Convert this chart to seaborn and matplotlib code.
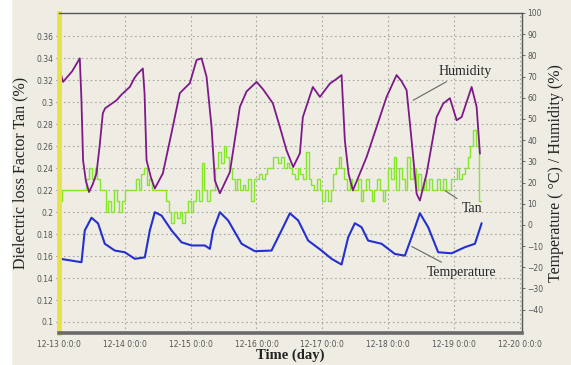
import numpy as np
import pandas as pd
import matplotlib
matplotlib.use("Agg")
import matplotlib.pyplot as plt
import seaborn as sns
from matplotlib.ticker import MultipleLocator, FixedLocator

# --- data (time in days from 12-13 0:0:0) ---
day_labels = ['12-13 0:0:0', '12-14 0:0:0', '12-15 0:0:0', '12-16 0:0:0',
              '12-17 0:0:0', '12-18 0:0:0', '12-19 0:0:0', '12-20 0:0:0']

hum_day = [0.0, 0.062, 0.20, 0.316, 0.34, 0.366, 0.407, 0.457, 0.51, 0.570, 0.62, 0.666, 0.70,
           0.874, 0.95, 1.076, 1.15, 1.20, 1.274, 1.30, 1.330, 1.40, 1.456, 1.578, 1.70, 1.836,
           1.988, 2.090, 2.166, 2.242, 2.318, 2.368, 2.444, 2.596, 2.748, 2.85, 3.002, 3.10,
           3.249, 3.356, 3.457, 3.558, 3.660, 3.705, 3.857, 3.964, 4.116, 4.20, 4.293, 4.343,
           4.40, 4.465, 4.673, 4.825, 4.977, 5.129, 5.20, 5.281, 5.357, 5.433, 5.483, 5.585,
           5.737, 5.838, 5.939, 6.041, 6.117, 6.269, 6.345, 6.395]
humidity = [74.0, 67.5, 72.5, 78.6, 60.0, 30.5, 21.0, 15.5, 19.0, 24.3, 38.0, 52.7, 55.0,
            58.8, 61.5, 65.1, 69.5, 71.5, 73.8, 62.0, 30.5, 22.0, 17.2, 24.3, 42.0, 62.2,
            66.9, 77.8, 78.6, 69.9, 46.2, 21.0, 14.9, 24.9, 55.7, 63.0, 67.5, 64.0,
            57.4, 46.2, 35.2, 27.3, 33.8, 50.9, 65.1, 60.4, 66.7, 68.5, 70.7, 39.9,
            24.0, 16.3, 32.0, 46.2, 60.4, 70.7, 68.0, 63.6, 39.9, 14.7, 11.5, 24.2,
            50.9, 57.3, 59.8, 49.4, 50.9, 65.1, 55.7, 33.6]

temp_day = [0.0, 0.342, 0.392, 0.494, 0.594, 0.696, 0.848, 1.0, 1.152, 1.304, 1.380, 1.456,
            1.558, 1.710, 1.862, 2.014, 2.216, 2.292, 2.342, 2.444, 2.570, 2.774, 2.976,
            3.229, 3.381, 3.508, 3.634, 3.786, 3.989, 4.141, 4.293, 4.394, 4.495, 4.597,
            4.697, 4.901, 5.103, 5.255, 5.357, 5.483, 5.609, 5.761, 5.965, 6.167, 6.319, 6.421]
temperature = [-15.9, -17.6, -2.6, 3.4, 0.7, -8.9, -12.1, -12.9, -16.0, -15.3, -2.6, 6.0,
               4.4, -2.6, -8.2, -9.7, -9.7, -11.3, -2.6, 6.0, 2.1, -8.9, -12.4,
               -12.1, -2.6, 5.5, 2.1, -7.4, -12.1, -16.0, -18.7, -5.8, 0.8, -1.1,
               -7.4, -8.9, -13.7, -14.5, -5.8, 5.5, -1.1, -12.9, -13.4, -10.5, -8.9, 0.8]

# hourly readings of the loss factor
tan_delta = [0.21, 0.22, 0.22, 0.22, 0.22, 0.22, 0.22, 0.22, 0.22, 0.22,
             0.23, 0.24, 0.23, 0.24, 0.23, 0.22, 0.22, 0.20, 0.21, 0.20,
             0.22, 0.21, 0.20, 0.21, 0.22, 0.22, 0.22, 0.22, 0.23, 0.22,
             0.235, 0.24, 0.225, 0.23, 0.22, 0.22, 0.22, 0.22, 0.22, 0.21,
             0.20, 0.19, 0.20, 0.195, 0.20, 0.19, 0.20, 0.21, 0.20, 0.21,
             0.22, 0.21, 0.245, 0.22, 0.21, 0.22, 0.22, 0.24, 0.255, 0.245,
             0.26, 0.25, 0.24, 0.23, 0.22, 0.23, 0.22, 0.225, 0.22, 0.23,
             0.21, 0.23, 0.23, 0.235, 0.23, 0.235, 0.24, 0.24, 0.25, 0.25,
             0.245, 0.25, 0.24, 0.245, 0.24, 0.235, 0.23, 0.24, 0.235, 0.23,
             0.255, 0.23, 0.225, 0.22, 0.23, 0.22, 0.21, 0.22, 0.21, 0.22,
             0.235, 0.24, 0.25, 0.24, 0.23, 0.22, 0.23, 0.22, 0.22, 0.23,
             0.21, 0.22, 0.23, 0.22, 0.21, 0.22, 0.23, 0.22, 0.21, 0.22,
             0.24, 0.23, 0.25, 0.22, 0.24, 0.23, 0.22, 0.25, 0.23, 0.24,
             0.22, 0.235, 0.22, 0.23, 0.22, 0.23, 0.22, 0.22, 0.23, 0.22,
             0.23, 0.22, 0.22, 0.23, 0.23, 0.24, 0.23, 0.235, 0.24, 0.25,
             0.26, 0.275, 0.26, 0.21, 0.21]

BG = '#efece4'
PURPLE = '#7d1a88'
BLUE = '#2430d0'
GREEN = '#86e62a'

sns.set_theme(style='white', rc={'figure.facecolor': BG, 'axes.facecolor': BG})
plt.rcParams['font.family'] = ['DejaVu Sans']

tan_df = pd.DataFrame({'day': np.arange(len(tan_delta)) / 24.0, 'tan': tan_delta})
hum_df = pd.DataFrame({'day': hum_day, 'value': humidity})
temp_df = pd.DataFrame({'day': temp_day, 'value': temperature})

fig = plt.figure(figsize=(5.71, 3.65), dpi=100)
fig.patches.append(plt.Rectangle((0, 0), 11 / 571, 1, transform=fig.transFigure,
                                 color='white', zorder=-1))
ax = fig.add_axes([0.1033, 0.0877, 0.8104, 0.8767])
ax2 = ax.twinx()
ax2.patch.set_visible(False)

sns.lineplot(data=tan_df, x='day', y='tan', ax=ax, color=GREEN, lw=1.0,
             drawstyle='steps-post', estimator=None, sort=False)
sns.lineplot(data=temp_df, x='day', y='value', ax=ax2, color=BLUE, lw=1.5,
             estimator=None, sort=False)
sns.lineplot(data=hum_df, x='day', y='value', ax=ax2, color=PURPLE, lw=1.3,
             estimator=None, sort=False)

ax.set_xlim(0, 7.03)
ax.set_ylim(0.09, 0.381)
ax2.set_ylim(-51, 100)

ax.xaxis.set_major_locator(FixedLocator(range(len(day_labels))))
ax.set_xticklabels(day_labels)
ax.xaxis.set_minor_locator(MultipleLocator(0.25))
ax.set_yticks(np.arange(0.10, 0.361, 0.02))
ax.set_yticklabels([f'{v:.2f}'.rstrip('0') for v in np.arange(0.10, 0.361, 0.02)])
ax2.set_yticks(np.arange(-40, 101, 10))

for a in (ax, ax2):
    a.tick_params(labelsize=5.5, labelcolor='#555555', color='#555555',
                  length=2.5, width=0.6, pad=1.5)
ax.tick_params(axis='x', which='minor', length=1.5, width=0.5, color='#555555')
ax.tick_params(axis='x', pad=2.5)

ax.grid(True, which='major', color='#a8a8a0', ls=(0, (1.5, 2.5)), lw=0.8)
ax2.grid(False)

# frame
for s in ('top', 'right'):
    ax2.spines[s].set_color('#555555')
    ax2.spines[s].set_linewidth(1.0)
ax2.spines['bottom'].set_color('#6a6a6a')
ax2.spines['bottom'].set_linewidth(2.6)
ax2.spines['left'].set_color('#e8e24a')
ax2.spines['left'].set_linewidth(3.5)
for s in ax.spines.values():
    s.set_visible(False)

serif = ['Liberation Serif', 'DejaVu Serif']
ax.set_xlabel('Time (day)', family=serif, fontsize=10.5, fontweight='bold',
              color='#222222', labelpad=0)
ax.set_ylabel('Dielectric loss Factor Tan (%)', family=serif, fontsize=11.5,
              color='#222222', labelpad=6)
ax2.set_ylabel('Temperature ( °C) / Humidity (%)', family=serif, fontsize=11.5,
               color='#222222', labelpad=3)

line = dict(arrowstyle='-', color='#666666', lw=0.8, shrinkA=1, shrinkB=0)
ax2.annotate('Humidity', xy=(5.38, 58.8), xytext=(6.17, 72.5), family=serif,
             fontsize=10, ha='center', va='center', arrowprops=line)
ax2.annotate('Tan', xy=(5.86, 16.3), xytext=(6.27, 7.8), family=serif,
             fontsize=10, ha='center', va='center', arrowprops=line)
ax2.annotate('Temperature', xy=(5.36, -10.2), xytext=(6.11, -22.5), family=serif,
             fontsize=10, ha='center', va='center', arrowprops=line)

fig.savefig('out.png', dpi=100, facecolor=BG)
